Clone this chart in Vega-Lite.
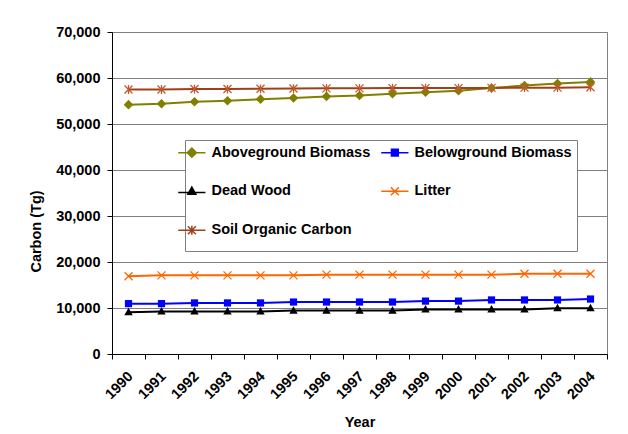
{
  "$schema": "https://vega.github.io/schema/vega-lite/v6.json",
  "width": 495,
  "height": 322,
  "autosize": {"type": "none"},
  "padding": {"left": 112, "top": 32, "right": 21, "bottom": 80},
  "background": "white",
  "config": {
    "font": "Liberation Sans",
    "view": {"stroke": "#808080", "strokeWidth": 1},
    "axis": {
      "labelFont": "Liberation Sans", "labelFontWeight": "bold", "labelFontSize": 14.5, "labelColor": "#000000",
      "titleFont": "Liberation Sans", "titleFontWeight": "bold", "titleFontSize": 14.5, "titleColor": "#000000",
      "domainColor": "#000000", "tickColor": "#000000", "tickSize": 5
    }
  },
  "data": {"values": [
    {"Year": "1990", "Series": "Aboveground Biomass", "Carbon": 54200},
    {"Year": "1991", "Series": "Aboveground Biomass", "Carbon": 54400},
    {"Year": "1992", "Series": "Aboveground Biomass", "Carbon": 54850},
    {"Year": "1993", "Series": "Aboveground Biomass", "Carbon": 55050},
    {"Year": "1994", "Series": "Aboveground Biomass", "Carbon": 55400},
    {"Year": "1995", "Series": "Aboveground Biomass", "Carbon": 55650},
    {"Year": "1996", "Series": "Aboveground Biomass", "Carbon": 56000},
    {"Year": "1997", "Series": "Aboveground Biomass", "Carbon": 56200},
    {"Year": "1998", "Series": "Aboveground Biomass", "Carbon": 56600},
    {"Year": "1999", "Series": "Aboveground Biomass", "Carbon": 56900},
    {"Year": "2000", "Series": "Aboveground Biomass", "Carbon": 57250},
    {"Year": "2001", "Series": "Aboveground Biomass", "Carbon": 57800},
    {"Year": "2002", "Series": "Aboveground Biomass", "Carbon": 58350},
    {"Year": "2003", "Series": "Aboveground Biomass", "Carbon": 58800},
    {"Year": "2004", "Series": "Aboveground Biomass", "Carbon": 59150},
    {"Year": "1990", "Series": "Belowground Biomass", "Carbon": 10950},
    {"Year": "1991", "Series": "Belowground Biomass", "Carbon": 10950},
    {"Year": "1992", "Series": "Belowground Biomass", "Carbon": 11100},
    {"Year": "1993", "Series": "Belowground Biomass", "Carbon": 11100},
    {"Year": "1994", "Series": "Belowground Biomass", "Carbon": 11100},
    {"Year": "1995", "Series": "Belowground Biomass", "Carbon": 11300},
    {"Year": "1996", "Series": "Belowground Biomass", "Carbon": 11300},
    {"Year": "1997", "Series": "Belowground Biomass", "Carbon": 11300},
    {"Year": "1998", "Series": "Belowground Biomass", "Carbon": 11300},
    {"Year": "1999", "Series": "Belowground Biomass", "Carbon": 11500},
    {"Year": "2000", "Series": "Belowground Biomass", "Carbon": 11500},
    {"Year": "2001", "Series": "Belowground Biomass", "Carbon": 11750},
    {"Year": "2002", "Series": "Belowground Biomass", "Carbon": 11750},
    {"Year": "2003", "Series": "Belowground Biomass", "Carbon": 11750},
    {"Year": "2004", "Series": "Belowground Biomass", "Carbon": 11950},
    {"Year": "1990", "Series": "Dead Wood", "Carbon": 9100},
    {"Year": "1991", "Series": "Dead Wood", "Carbon": 9250},
    {"Year": "1992", "Series": "Dead Wood", "Carbon": 9250},
    {"Year": "1993", "Series": "Dead Wood", "Carbon": 9250},
    {"Year": "1994", "Series": "Dead Wood", "Carbon": 9250},
    {"Year": "1995", "Series": "Dead Wood", "Carbon": 9450},
    {"Year": "1996", "Series": "Dead Wood", "Carbon": 9450},
    {"Year": "1997", "Series": "Dead Wood", "Carbon": 9450},
    {"Year": "1998", "Series": "Dead Wood", "Carbon": 9450},
    {"Year": "1999", "Series": "Dead Wood", "Carbon": 9700},
    {"Year": "2000", "Series": "Dead Wood", "Carbon": 9700},
    {"Year": "2001", "Series": "Dead Wood", "Carbon": 9700},
    {"Year": "2002", "Series": "Dead Wood", "Carbon": 9700},
    {"Year": "2003", "Series": "Dead Wood", "Carbon": 9950},
    {"Year": "2004", "Series": "Dead Wood", "Carbon": 9950},
    {"Year": "1990", "Series": "Litter", "Carbon": 16900},
    {"Year": "1991", "Series": "Litter", "Carbon": 17100},
    {"Year": "1992", "Series": "Litter", "Carbon": 17100},
    {"Year": "1993", "Series": "Litter", "Carbon": 17100},
    {"Year": "1994", "Series": "Litter", "Carbon": 17100},
    {"Year": "1995", "Series": "Litter", "Carbon": 17100},
    {"Year": "1996", "Series": "Litter", "Carbon": 17250},
    {"Year": "1997", "Series": "Litter", "Carbon": 17250},
    {"Year": "1998", "Series": "Litter", "Carbon": 17250},
    {"Year": "1999", "Series": "Litter", "Carbon": 17250},
    {"Year": "2000", "Series": "Litter", "Carbon": 17250},
    {"Year": "2001", "Series": "Litter", "Carbon": 17250},
    {"Year": "2002", "Series": "Litter", "Carbon": 17450},
    {"Year": "2003", "Series": "Litter", "Carbon": 17450},
    {"Year": "2004", "Series": "Litter", "Carbon": 17450},
    {"Year": "1990", "Series": "Soil Organic Carbon", "Carbon": 57500},
    {"Year": "1991", "Series": "Soil Organic Carbon", "Carbon": 57500},
    {"Year": "1992", "Series": "Soil Organic Carbon", "Carbon": 57600},
    {"Year": "1993", "Series": "Soil Organic Carbon", "Carbon": 57600},
    {"Year": "1994", "Series": "Soil Organic Carbon", "Carbon": 57650},
    {"Year": "1995", "Series": "Soil Organic Carbon", "Carbon": 57700},
    {"Year": "1996", "Series": "Soil Organic Carbon", "Carbon": 57750},
    {"Year": "1997", "Series": "Soil Organic Carbon", "Carbon": 57750},
    {"Year": "1998", "Series": "Soil Organic Carbon", "Carbon": 57800},
    {"Year": "1999", "Series": "Soil Organic Carbon", "Carbon": 57800},
    {"Year": "2000", "Series": "Soil Organic Carbon", "Carbon": 57800},
    {"Year": "2001", "Series": "Soil Organic Carbon", "Carbon": 57850},
    {"Year": "2002", "Series": "Soil Organic Carbon", "Carbon": 57900},
    {"Year": "2003", "Series": "Soil Organic Carbon", "Carbon": 57900},
    {"Year": "2004", "Series": "Soil Organic Carbon", "Carbon": 58000}
  ]},
  "encoding": {
    "x": {
      "field": "Year", "type": "ordinal", "bandPosition": 0.5,
      "scale": {"type": "band", "paddingInner": 0, "paddingOuter": 0},
      "axis": {"title": "Year", "labelAngle": -45, "grid": false, "tickBand": "extent", "labelPadding": 10, "labelOffset": -3, "titlePadding": 14}
    },
    "y": {
      "field": "Carbon", "type": "quantitative",
      "scale": {"domain": [0, 70000], "nice": false},
      "axis": {"title": "Carbon (Tg)", "values": [0, 10000, 20000, 30000, 40000, 50000, 60000, 70000], "format": ",d", "grid": true, "gridColor": "#808080", "gridOpacity": 1, "labelPadding": 7, "titlePadding": 12, "titleY": 199}
    }
  },
  "layer": [
    {
      "mark": {"type": "line", "strokeWidth": 2},
      "encoding": {
        "color": {"field": "Series", "type": "nominal",
          "scale": {"domain": ["Aboveground Biomass", "Belowground Biomass", "Dead Wood", "Litter", "Soil Organic Carbon"], "range": ["#808000", "#0000FF", "#000000", "#FF6600", "#A0401A"]},
          "legend": {
            "title": null, "orient": "none", "legendX": 73, "legendY": 108, "columns": 2, "direction": "horizontal",
            "fillColor": "white", "strokeColor": "#808080", "padding": 5,
            "labelFont": "Liberation Sans", "labelFontWeight": "bold", "labelFontSize": 14.5, "labelColor": "#000000",
            "symbolSize": 64, "symbolStrokeWidth": 1.5, "symbolOpacity": 1, "symbolOffset": -19, "labelOffset": 26,
            "rowPadding": 4, "columnPadding": 7
          }
        }
      }
    },
    {
      "transform": [{"filter": "datum.Series === 'Aboveground Biomass'"}],
      "mark": {"type": "point", "filled": true, "opacity": 1, "size": 70, "color": "#808000", "shape": "M0,-1.15L1.15,0L0,1.15L-1.15,0Z"}
    },
    {
      "transform": [{"filter": "datum.Series === 'Belowground Biomass'"}],
      "mark": {"type": "point", "filled": true, "opacity": 1, "size": 64, "color": "#0000FF", "shape": "M-0.9,-0.9L0.9,-0.9L0.9,0.9L-0.9,0.9Z"}
    },
    {
      "transform": [{"filter": "datum.Series === 'Dead Wood'"}],
      "mark": {"type": "point", "filled": true, "opacity": 1, "size": 70, "color": "#000000", "shape": "M0,-1.05L1,0.75L-1,0.75Z"}
    },
    {
      "transform": [{"filter": "datum.Series === 'Litter'"}],
      "mark": {"type": "point", "filled": false, "opacity": 1, "size": 64, "strokeWidth": 1.3, "color": "#FF6600", "shape": "M-1,-1L1,1M-1,1L1,-1"}
    },
    {
      "transform": [{"filter": "datum.Series === 'Soil Organic Carbon'"}],
      "mark": {"type": "point", "filled": false, "opacity": 1, "size": 64, "strokeWidth": 1.3, "color": "#C05A30", "shape": "M-1,-1L1,1M-1,1L1,-1M0,-1.1L0,1.1"}
    },
    {
      "transform": [{"filter": "false"}],
      "mark": {"type": "point", "filled": true, "opacity": 1, "size": 64, "strokeWidth": 1.5},
      "encoding": {
        "color": {"field": "Series", "type": "nominal"},
        "stroke": {"field": "Series", "type": "nominal",
          "scale": {"domain": ["Aboveground Biomass", "Belowground Biomass", "Dead Wood", "Litter", "Soil Organic Carbon"], "range": ["#808000", "#0000FF", "#000000", "#FF6600", "#A0401A"]}},
        "shape": {"field": "Series", "type": "nominal",
          "scale": {"domain": ["Aboveground Biomass", "Belowground Biomass", "Dead Wood", "Litter", "Soil Organic Carbon"], "range": [
            "M3.4,-1.15L4.55,0L3.4,1.15L2.25,0Z M0,0L6.8,0 M0,-4 M0,3",
            "M2.55,-0.85L4.25,-0.85L4.25,0.85L2.55,0.85Z M0,0L6.8,0 M0,-4 M0,3",
            "M3.4,-1.05L4.4,0.75L2.4,0.75Z M0,0.3L6.8,0.3 M0,-4 M0,3",
            "M2.4,-1L4.4,1M2.4,1L4.4,-1 M0,0L6.8,0 M0,-4 M0,3",
            "M2.4,-1L4.4,1M2.4,1L4.4,-1M3.4,-1.1L3.4,1.1 M0,0L6.8,0 M0,-4 M0,3"]}}
      }
    }
  ]
}
